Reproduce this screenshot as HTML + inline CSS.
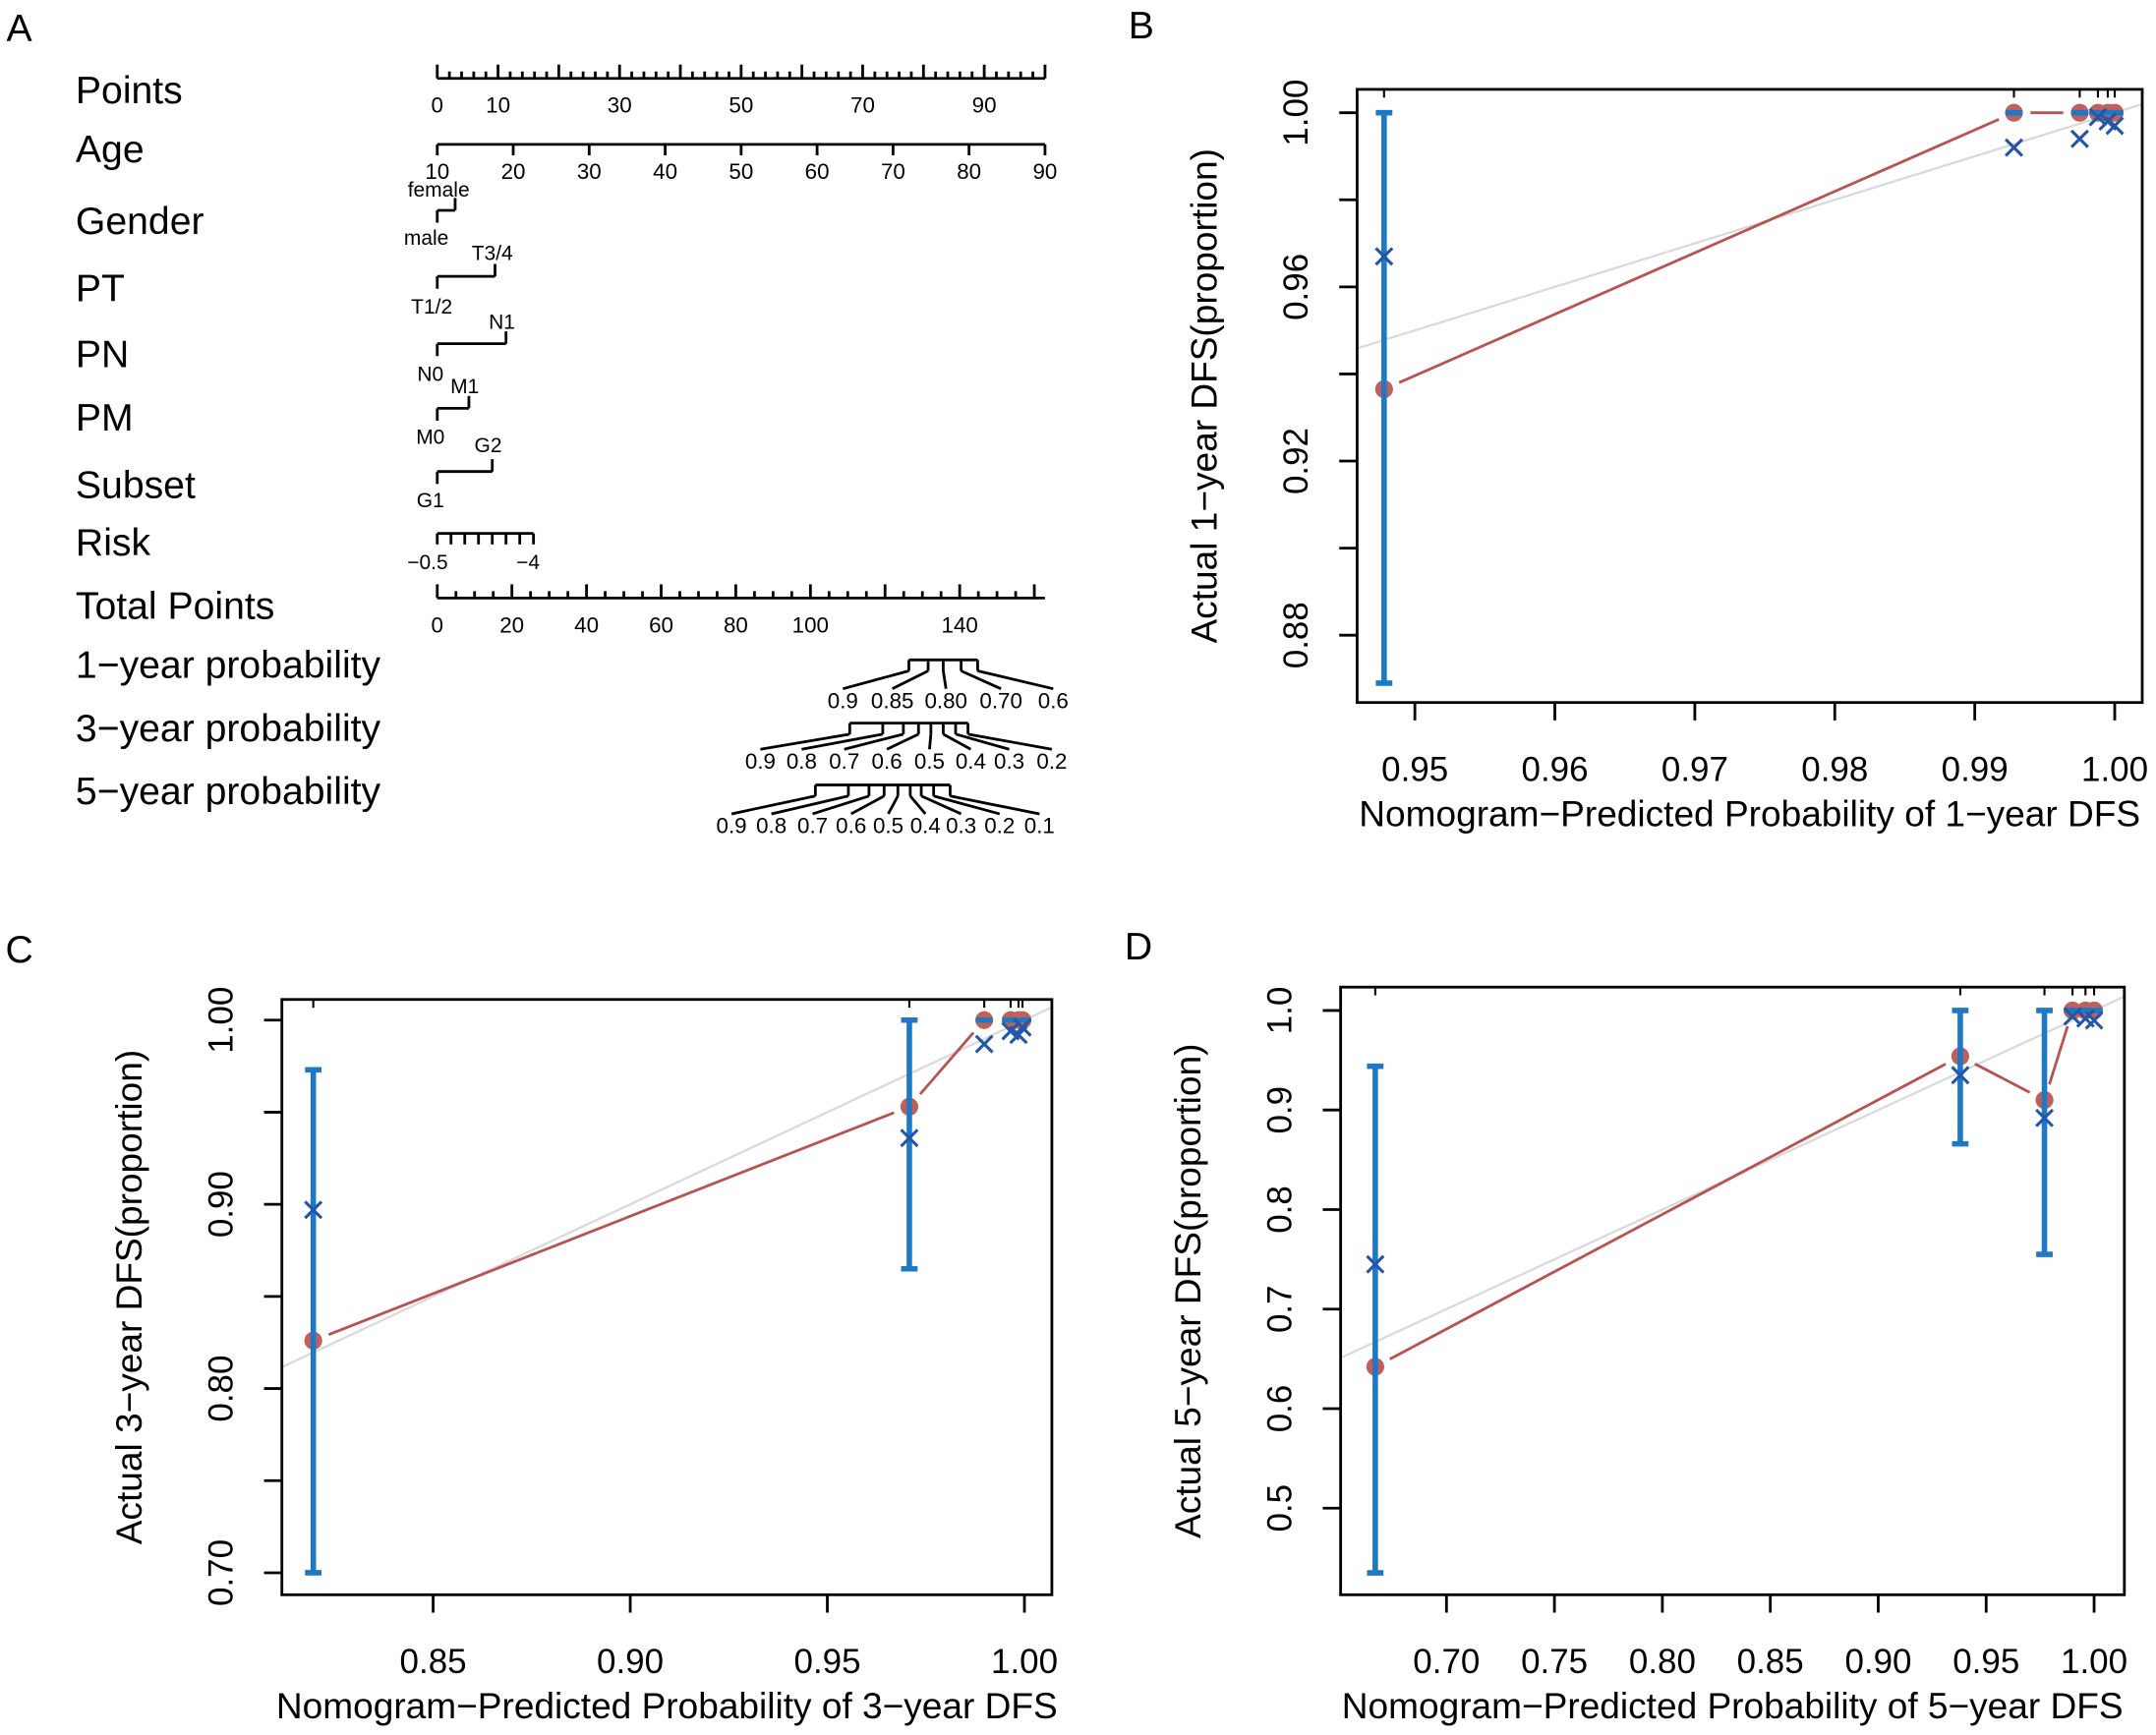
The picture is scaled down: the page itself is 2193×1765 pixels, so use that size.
<!DOCTYPE html>
<html><head><meta charset="utf-8"><style>
html,body{margin:0;padding:0;background:#fff;}
svg{display:block;font-family:"Liberation Sans",Arial,sans-serif;}
</style></head><body>
<svg id="fig" width="2193" height="1765" viewBox="0 0 1568 1262" xmlns="http://www.w3.org/2000/svg"></svg>
<script>
// ---- Panel B data ----
const bPred = [0.9478, 0.9928, 0.9975, 0.9988, 0.9995, 1.0];
const bObs  = [0.9365, 1.0, 1.0, 1.0, 1.0, 1.0];
const bCorr = [0.967, 0.992, 0.994, 0.999, 0.998, 0.997];
const bErrX = [0.9478];
const bErrLo = [0.869];
const bErrHi = [1.0];
const bXTicks = [0.95, 0.96, 0.97, 0.98, 0.99, 1.00];
const bXLabels = ["0.95","0.96","0.97","0.98","0.99","1.00"];
const bYTicks = [0.88, 0.90, 0.92, 0.94, 0.96, 0.98, 1.00];
const bYLabels = ["0.88","","0.92","","0.96","","1.00"];
// ---- Panel C data ----
const cPred = [0.8196, 0.9708, 0.9898, 0.9965, 0.9985, 0.9995];
const cObs  = [0.826, 0.953, 1.0, 1.0, 1.0, 1.0];
const cCorr = [0.897, 0.936, 0.987, 0.994, 0.992, 0.996];
const cErrX = [0.8196, 0.9708];
const cErrLo = [0.70, 0.865];
const cErrHi = [0.973, 1.0];
const cXTicks = [0.85, 0.90, 0.95, 1.00];
const cXLabels = ["0.85","0.90","0.95","1.00"];
const cYTicks = [0.70, 0.75, 0.80, 0.85, 0.90, 0.95, 1.00];
const cYLabels = ["0.70","","0.80","","0.90","","1.00"];
// ---- Panel D data ----
const dPred = [0.667, 0.938, 0.977, 0.990, 0.996, 1.0];
const dObs  = [0.642, 0.954, 0.910, 1.0, 1.0, 1.0];
const dCorr = [0.745, 0.935, 0.892, 0.994, 0.992, 0.990];
const dErrX = [0.667, 0.938, 0.977];
const dErrLo = [0.435, 0.866, 0.755];
const dErrHi = [0.944, 1.0, 1.0];
const dXTicks = [0.70, 0.75, 0.80, 0.85, 0.90, 0.95, 1.00];
const dXLabels = ["0.70","0.75","0.80","0.85","0.90","0.95","1.00"];
const dYTicks = [0.5, 0.6, 0.7, 0.8, 0.9, 1.0];
const dYLabels = ["0.5","0.6","0.7","0.8","0.9","1.0"];
// ---- Nomogram data ----
const rowNames = ["Points","Age","Gender","PT","PN","PM","Subset","Risk","Total Points","1\u2212year probability","3\u2212year probability","5\u2212year probability"];
const pointsLabels = [0,10,30,50,70,90];
const ageLabels = [10,20,30,40,50,60,70,80,90];
const totalLabels = [0,20,40,60,80,100,140];
const p1Labels = ["0.9","0.85","0.80","0.70","0.6"];
const p3Labels = ["0.9","0.8","0.7","0.6","0.5","0.4","0.3","0.2"];
const p5Labels = ["0.9","0.8","0.7","0.6","0.5","0.4","0.3","0.2","0.1"];

const NS="http://www.w3.org/2000/svg";
const svg=document.getElementById('fig');
function el(tag,attrs,parent,text){const e=document.createElementNS(NS,tag);for(const k in attrs)e.setAttribute(k,attrs[k]);if(text!==undefined)e.textContent=text;(parent||svg).appendChild(e);return e;}
function line(x1,y1,x2,y2,st,sw,p){return el('line',{x1,y1,x2,y2,stroke:st||'#000','stroke-width':sw||2},p);}
function txt(x,y,s,size,anchor,p,extra){const a={x,y,'font-size':size,'text-anchor':anchor||'middle',fill:'#000'};if(extra)for(const k in extra)a[k]=extra[k];return el('text',a,p,s);}

// panel letters
[["A",14,30],["B",830,28],["C",14,700],["D",828,698]].forEach(l=>{const t=txt(l[1],l[2],l[0],28,'middle');});

// ---- Nomogram ----
const gA=el('g',{});


const rowY=[66,109,161,210,258,304,353,395,441,484,530,576];
rowNames.forEach((n,i)=>{const t=txt(55,rowY[i]+9,n,28,'start',gA);});
// Points axis
const px=v=>318+v*4.42;
line(318,57,760,57,'#000',2,gA);
for(let v=0;v<=100;v+=2){const big=v%10===0;line(px(v),57,px(v),big?47:52,'#000',2,gA);}
pointsLabels.forEach(v=>txt(px(v),82,String(v),16,'middle',gA));
// Age
const ax=v=>318+(v-10)*(442/80);
line(318,105,760,105,'#000',2,gA);
ageLabels.forEach(v=>{line(ax(v),105,ax(v),113,'#000',2,gA);txt(ax(v),130,String(v),16,'middle',gA);});
// categorical brackets
function bracket(x2,yh,lab1,lx1,ly1,lab2,lx2,ly2){line(318,yh,x2,yh,'#000',2,gA);line(318,yh,318,yh+9,'#000',2,gA);line(x2,yh,x2,yh-9,'#000',2,gA);txt(lx1,ly1,lab1,15,'middle',gA);txt(lx2,ly2,lab2,15,'middle',gA);}
bracket(331,153,'female',319,143,'male',310,178);
bracket(360,201,'T3/4',358,189,'T1/2',314,228);
bracket(368,250,'N1',365,239,'N0',313,277);
bracket(341,297,'M1',338,286,'M0',313,323);
bracket(358,343,'G2',355,329,'G1',313,369);
// Risk
line(318,388,388,388,'#000',2,gA);
for(let i=0;i<8;i++){const x=318+i*10;line(x,388,x,396,'#000',2,gA);}
txt(311,414,'\u22120.5',15,'middle',gA);txt(384,414,'\u22124',15,'middle',gA);
// Total points
const tx=v=>318+v*2.714;
line(318,435,760,435,'#000',2,gA);
for(let v=0;v<=162;v+=5){const big=v%20===0;line(tx(v),435,tx(v),big?425:430,'#000',2,gA);}
totalLabels.forEach(v=>txt(tx(v),460,String(v),16,'middle',gA));
// probability brackets
function probAxis(yh,vx,labs,lx,ly){
  line(vx[0],yh,vx[vx.length-1],yh,'#000',2,gA);
  vx.forEach((x,i)=>{line(x,yh,x,yh+8,'#000',2,gA);line(x,yh+8,lx[i],ly-14,'#000',2,gA);txt(lx[i],ly,labs[i],16,'middle',gA);});
}
probAxis(480,[661,675,686,699,711],p1Labels,[613,649,688,728,766],515);
probAxis(526,[618,642,657,668,677,686,695,704],p3Labels,[553,583,614,645,676,706,734,765],559);
probAxis(571,[593,617,632,643,653,662,670,679,691],p5Labels,[532,561,591,619,646,673,699,727,756],606);

// ---- Calibration panels ----
function calib(cfg){
  const g=el('g',{});
  
  
  const X=v=>cfg.x0+(v-cfg.xv0)*cfg.xs;
  const Y=v=>cfg.y0-(v-cfg.yv0)*cfg.ys;
  const cid='clip-'+cfg.name;
  const cp=el('clipPath',{id:cid},g);el('rect',{x:cfg.L,y:cfg.T,width:cfg.R-cfg.L,height:cfg.B-cfg.T},cp);
  const vL=cfg.xv0+(cfg.L-cfg.x0)/cfg.xs, vR=cfg.xv0+(cfg.R-cfg.x0)/cfg.xs;
  const ideal=line(cfg.L,Y(vL),cfg.R,Y(vR),'#d9d9d9',1.6,g);ideal.setAttribute('clip-path','url(#'+cid+')');
  
  
  const pr=cfg.pred, ob=cfg.obs;
  for(let i=0;i<pr.length-1;i++){
    const x1=X(pr[i]),y1=Y(ob[i]),x2=X(pr[i+1]),y2=Y(ob[i+1]);
    const d=Math.hypot(x2-x1,y2-y1),gap=12;
    if(d>2*gap+2){const ux=(x2-x1)/d,uy=(y2-y1)/d;line(x1+ux*gap,y1+uy*gap,x2-ux*gap,y2-uy*gap,'#b85450',2,g);}
  }
  pr.forEach((p,i)=>{const c=el('circle',{cx:X(p),cy:Y(ob[i]),r:6.5,fill:'#c0605a'},g);});
  cfg.ex.forEach((p,i)=>{const x=X(p);const b=line(x,Y(cfg.elo[i]),x,Y(cfg.ehi[i]),'#1f78c4',4,g);
    line(x-6,Y(cfg.elo[i]),x+6,Y(cfg.elo[i]),'#1f78c4',4,g);line(x-6,Y(cfg.ehi[i]),x+6,Y(cfg.ehi[i]),'#1f78c4',4,g);});
  pr.forEach((p,i)=>{if(i>0&&ob[i]>=cfg.yTop-1e-9){line(X(p)-6,Y(ob[i]),X(p)+6,Y(ob[i]),'#1f78c4',4,g);}});
  cfg.corr.forEach((v,i)=>{const x=X(pr[i]),y=Y(v),s=6;const m=el('path',{d:`M${x-s} ${y-s}L${x+s} ${y+s}M${x-s} ${y+s}L${x+s} ${y-s}`,stroke:'#2355a8','stroke-width':2.2,fill:'none'},g);});
  el('rect',{x:cfg.L,y:cfg.T,width:cfg.R-cfg.L,height:cfg.B-cfg.T,fill:'none',stroke:'#000','stroke-width':2},g);
  pr.forEach(p=>line(X(p),cfg.T,X(p),cfg.T+6,'#000',1.5,g));
  cfg.xt.forEach((v,i)=>{line(X(v),cfg.B,X(v),cfg.B+13,'#000',2,g);const t=txt(X(v),cfg.B+57,cfg.xl[i],25,'middle',g);});
  cfg.yt.forEach((v,i)=>{line(cfg.L-13,Y(v),cfg.L,Y(v),'#000',2,g);if(cfg.yl[i]){const t=txt(cfg.L-36,Y(v),cfg.yl[i],25,'middle',g,{transform:`rotate(-90 ${cfg.L-36} ${Y(v)})`});}});
  const xt=txt((cfg.L+cfg.R)/2,cfg.B+90,cfg.xtitle,26.5,'middle',g);
  const yc=(cfg.T+cfg.B)/2;const yt=txt(cfg.L-102,yc,cfg.ytitle,26.5,'middle',g,{transform:`rotate(-90 ${cfg.L-102} ${yc})`});
}
calib({name:'calibration-1-year',L:987,R:1558,T:65,B:511,x0:1029,xv0:0.95,xs:10180,y0:82,yv0:1.0,ys:3167,yTop:1.0,
  pred:bPred,obs:bObs,corr:bCorr,ex:bErrX,elo:bErrLo,ehi:bErrHi,xt:bXTicks,xl:bXLabels,yt:bYTicks,yl:bYLabels,
  xtitle:'Nomogram\u2212Predicted Probability of 1\u2212year DFS',ytitle:'Actual 1\u2212year DFS(proportion)'});
calib({name:'calibration-3-year',L:205,R:765,T:727,B:1160,x0:315,xv0:0.85,xs:2867,y0:742,yv0:1.0,ys:1340,yTop:1.0,
  pred:cPred,obs:cObs,corr:cCorr,ex:cErrX,elo:cErrLo,ehi:cErrHi,xt:cXTicks,xl:cXLabels,yt:cYTicks,yl:cYLabels,
  xtitle:'Nomogram\u2212Predicted Probability of 3\u2212year DFS',ytitle:'Actual 3\u2212year DFS(proportion)'});
calib({name:'calibration-5-year',L:975,R:1545,T:718,B:1160,x0:1052,xv0:0.70,xs:1570,y0:735,yv0:1.0,ys:724,yTop:1.0,
  pred:dPred,obs:dObs,corr:dCorr,ex:dErrX,elo:dErrLo,ehi:dErrHi,xt:dXTicks,xl:dXLabels,yt:dYTicks,yl:dYLabels,
  xtitle:'Nomogram\u2212Predicted Probability of 5\u2212year DFS',ytitle:'Actual 5\u2212year DFS(proportion)'});
</script>
</body></html>
